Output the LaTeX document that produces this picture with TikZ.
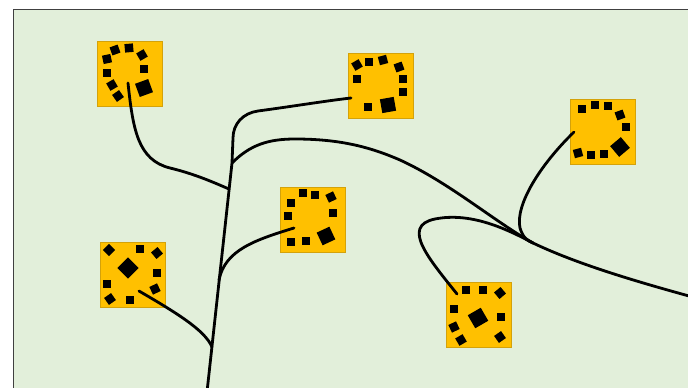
\documentclass[tikz,border=0pt]{standalone}
\usepackage{tikz}
\definecolor{meadow}{HTML}{E2EFDA}
\definecolor{amber}{HTML}{FFC000}
\definecolor{amberline}{HTML}{D4A20A}

\begin{document}
\begin{tikzpicture}[x=1pt,y=-1pt,line cap=round]
    \tikzstyle{leaf}=[rectangle,fill=amber,draw=amberline,line width=0.6pt,minimum size=65pt,inner sep=0pt]
    \tikzstyle{bit}=[rectangle,fill=black,minimum size=8.5pt,inner sep=0pt]
    \tikzstyle{blob}=[bit,minimum size=14pt]
    \tikzstyle{stem}=[line width=2.8pt]
      \useasboundingbox (0,0) rectangle (688,388);
      \clip (0,0) rectangle (688,388);
      \draw[fill=meadow,draw=black!75,line width=0.8pt] (13,9) rectangle (700,400);
      % the six squares
      \node[leaf] (sqA) at (130,74)      {};
      \node[leaf] (sqB) at (380.5,85.5)  {};
      \node[leaf] (sqC) at (602.5,131.5) {};
      \node[leaf] (sqD) at (312.5,220)   {};
      \node[leaf] (sqE) at (133,274.5)   {};
      \node[leaf] (sqF) at (479,315)     {};
      \foreach \x/\y/\r [count=\i] in {115/50/20,129/48/5,142/55/30,107/59/12,144/69/0,107/73/0,112/85/30,118/96/35,
          357/65/30,369/62/0,383/60/15,399/67/20,357/79/0,403/79/0,403/92/0,368/107/0,
          582/109/0,595/105/0,608/106/0,620/115/20,626/127/0,578/153/15,591/155/0,604/154/0,
          303/193/0,315/195/0,331/197/25,291/203/0,288/216/0,333/213/0,291/242/0,306/241/0,
          109/250/45,140/249/0,157/253/40,157/273/0,107/284/0,155/289/25,110/299/35,130/300/0,
          466/290/0,483/290/0,500/293/40,454/309/0,501/317/0,454/327/25,500/337/35,461/340/30}
        \node[bit,rotate=\r] (bit\i) at (\x,\y) {};
      \node[blob,rotate=20] (blobA) at (144,88)  {};
      \node[blob,rotate=10] (blobB) at (388,105) {};
      \node[blob,rotate=40] (blobC) at (620,147) {};
      \node[blob,rotate=25] (blobD) at (326,236) {};
      \node[blob,rotate=45,minimum size=15pt] (blobE) at (128,268) {};
      \node[blob,rotate=30,minimum size=15pt] (blobF) at (478,318) {};
      % ends and joints of the stems
      \coordinate (endA) at (128,83);
      \coordinate (endB) at (351,98);
      \coordinate (endC) at (574,132);
      \coordinate (endD) at (294,228);
      \coordinate (endE) at (139,291);
      \coordinate (endF) at (457,294);
      \coordinate (root) at (207,392);
      \coordinate (jB) at (232,163);
      \coordinate (jA) at (229,189);
      \coordinate (jD) at (219,280);
      \coordinate (jE) at (212,347);
      \coordinate (jC) at (533,243);
      \coordinate (tip) at (700,299);
      \draw[stem] (root) -- (jB) -- (233,138) .. controls (233,124) and (243,113) .. (258,111)
            .. controls (295,106) and (325,101) .. (endB);
      \draw[stem] (jB) .. controls (250,145) and (268,139) .. (295,139)
            .. controls (340,139) and (370,147) .. (400,160)
            .. controls (450,183) and (495,222) .. (jC)
            .. controls (575,263) and (630,280) .. (tip);
      \draw[stem] (endA) .. controls (133,130) and (138,160) .. (170,168)
            .. controls (195,174) and (215,183) .. (jA);
      \draw[stem] (endD) .. controls (255,240) and (225,250) .. (jD);
      \draw[stem] (endE) .. controls (175,312) and (205,330) .. (jE);
      \draw[stem] (endC) .. controls (540,165) and (515,205) .. (520,228)
            .. controls (523,238) and (528,241) .. (jC);
      \draw[stem] (endF) .. controls (430,260) and (400,226) .. (435,219)
            .. controls (470,212) and (505,228) .. (jC);
    \end{tikzpicture}
\end{document}
